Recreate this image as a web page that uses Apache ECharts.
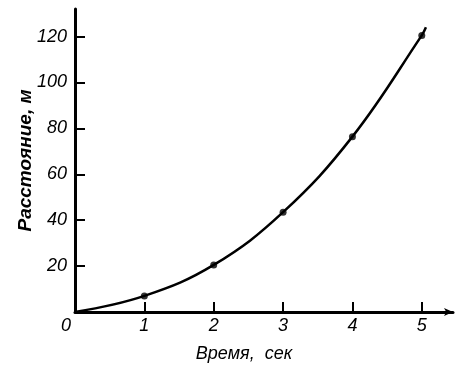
<!DOCTYPE html>
<html><head><meta charset="utf-8">
<script src="https://cdn.jsdelivr.net/npm/echarts@6/dist/echarts.min.js"></script>
<style>html,body{margin:0;padding:0;background:#fff}#c{width:465px;height:375px}</style>
</head><body><div id="c"></div>
<script>
const times = [1, 2, 3, 4, 5];
const distances = [7, 20.5, 43.5, 76.4, 120.5];
const curveT = [0, 1, 2, 3, 4, 5, 5.06];
const curveS = [0, 7, 20.5, 43.5, 76.4, 120.5, 124];
const xTicks = [1, 2, 3, 4, 5];
const xLabels = [0, 1, 2, 3, 4, 5];
const yTicks = [20, 40, 60, 80, 100, 120];
const xTitle = 'Время,  сек';
const yTitle = 'Расстояние, м';

const FONT = '"Liberation Sans","DejaVu Sans",sans-serif';
const chart = echarts.init(document.getElementById('c'));
chart.setOption({
  animation: false,
  grid: {left: 75, right: 12, top: 9, bottom: 63},
  xAxis: {
    type: 'value', min: 0, max: 5.45,
    name: xTitle, nameLocation: 'middle', nameGap: 33, nameMoveOverlap: false,
    nameTextStyle: {color: '#000', fontFamily: FONT, fontStyle: 'italic', fontSize: 18, padding: [0, 40, 0, 0]},
    axisLine: {lineStyle: {color: '#000', width: 3}, symbol: ['none', 'arrow'], symbolSize: [6, 9]},
    axisTick: {inside: true, length: 10, lineStyle: {color: '#000', width: 2}, customValues: xTicks},
    axisLabel: {customValues: xLabels, color: '#000', fontFamily: FONT, fontStyle: 'italic', fontSize: 18, margin: 5,
      formatter: v => v === 0 ? '{z|0}' : String(v),
      rich: {z: {fontFamily: FONT, fontStyle: 'italic', fontSize: 18, color: '#000', padding: [0, 18, 0, 0]}}},
    splitLine: {show: false}
  },
  yAxis: {
    type: 'value', min: 0, max: 132,
    name: yTitle, nameLocation: 'middle', nameGap: 40, nameMoveOverlap: false,
    nameTextStyle: {color: '#000', fontFamily: FONT, fontStyle: 'italic', fontWeight: 'bold', fontSize: 19},
    axisLine: {lineStyle: {color: '#000', width: 3}},
    axisTick: {inside: true, length: 10, lineStyle: {color: '#000', width: 2}, customValues: yTicks},
    axisLabel: {customValues: yTicks, color: '#000', fontFamily: FONT, fontStyle: 'italic', fontSize: 18, margin: 8},
    splitLine: {show: false}
  },
  series: [
    {type: 'line', data: curveT.map((t, i) => [t, curveS[i]]), smooth: 0.4, showSymbol: false,
      lineStyle: {color: '#000', width: 2.5}},
    {type: 'scatter', data: times.map((t, i) => [t, distances[i]]), symbolSize: 7,
      itemStyle: {color: '#000'}}
  ]
});
</script></body></html>
